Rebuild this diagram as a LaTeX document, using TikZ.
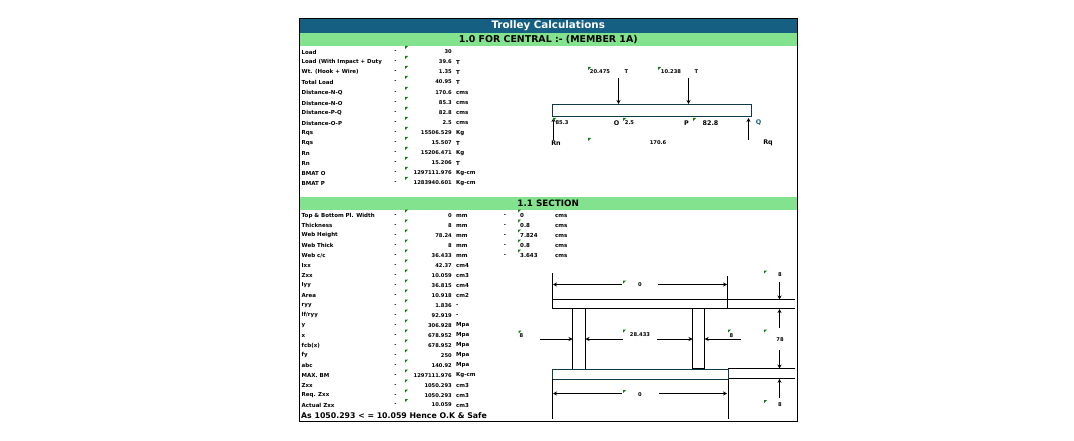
\documentclass[tikz,border=0pt]{standalone}
\usepackage{fontspec}
\usetikzlibrary{arrows.meta}
\setmainfont{DejaVu Sans}
\definecolor{headblue}{HTML}{156082}
\definecolor{headgreen}{HTML}{83E28E}
\definecolor{beamteal}{HTML}{0F3A4A}
\definecolor{markgreen}{HTML}{107C10}
\newcommand{\cellmark}[2]{\fill[markgreen] (#1,#2) -- ++(3,0) -- ++(-3,3) -- cycle;}
\begin{document}
\begin{tikzpicture}[
    x=1pt, y=-1pt,
    band/.style={anchor=north west, minimum width=497pt, inner sep=0pt, font=\bfseries\fontsize{9.4}{10}\selectfont},
    lab/.style={anchor=west, yshift=-0.5pt, inner sep=0pt, font=\bfseries\fontsize{5.5}{6}\selectfont},
    val/.style={anchor=east, yshift=-0.5pt, inner sep=0pt, font=\bfseries\fontsize{5.2}{6}\selectfont},
    txt/.style={yshift=-0.5pt, inner sep=0pt, font=\bfseries\fontsize{5.2}{6}\selectfont},
    pointlab/.style={yshift=-0.5pt, inner sep=0pt, font=\bfseries\fontsize{6.4}{7}\selectfont},
    dim/.style={-{Stealth[length=4pt,width=4pt]}, line width=0.7pt},
    edge/.style={line width=0.7pt}
]
\useasboundingbox (0,0) rectangle (1074,441);

% Bandes de titre
\node[band, fill=headblue, text=white, minimum height=14pt, font=\bfseries\fontsize{10.3}{11}\selectfont] (title) at (299.5,19) {Trolley Calculations};
\node[band, fill=headgreen, minimum height=13pt] (head1) at (299.5,33) {1.0 FOR CENTRAL :- (MEMBER 1A)};
\node[band, fill=headgreen, minimum height=13pt, font=\bfseries\fontsize{8.8}{10}\selectfont] (head2) at (299.5,197) {1.1 SECTION};

% Lignes du tableau
\foreach \y/\name/\value/\unit in {
    51.5/Load/30/{},
    61.5/{Load (With Impact + Duty}/39.6/T,
    71.5/{Wt. (Hook + Wire)}/1.35/T,
    81.5/Total Load/40.95/T,
    92.5/Distance-N-Q/170.6/cms,
    102.5/Distance-N-O/85.3/cms,
    112.5/Distance-P-Q/82.8/cms,
    122.5/Distance-O-P/2.5/cms,
    132.5/Rqs/15506.529/Kg,
    142.5/Rqs/15.507/T,
    152.5/Rn/15206.471/Kg,
    162.5/Rn/15.206/T,
    172.5/BMAT O/1297111.976/Kg-cm,
    182.5/BMAT P/1283940.601/Kg-cm,
    215/{Top \& Bottom Pl. Width}/0/mm,
    225/Thickness/8/mm,
    235/Web Height/78.24/mm,
    245/Web Thick/8/mm,
    255/{Web c/c}/36.433/mm,
    265/Ixx/42.37/cm4,
    275/Zxx/10.059/cm3,
    285/Iyy/36.815/cm4,
    295/Area/10.918/cm2,
    305/ryy/1.836/-,
    315/{lf/ryy}/92.919/-,
    325/y/306.928/Mpa,
    335/x/678.952/Mpa,
    345/fcb(x)/678.952/Mpa,
    355/fy/250/Mpa,
    365/abc/140.92/Mpa,
    375/MAX. BM/1297111.976/Kg-cm,
    385/Zxx/1050.293/cm3,
    395/Req. Zxx/1050.293/cm3,
    404.5/Actual Zxx/10.059/cm3} {
  \node[lab] (lab\y) at (301.5,\y) {\name};
  \node[txt] (dash\y) at (395.5,\y) {-};
  \cellmark{405}{\y-5.5}
  \node[val] (val\y) at (452,\y) {\value};
  \node[lab] (unit\y) at (456,\y) {\unit};
}

% Colonne en cm
\foreach \y/\value in {215/0, 225/0.8, 235/7.824, 245/0.8, 255/3.643} {
  \node[txt] (dashb\y) at (505,\y) {-};
  \cellmark{518}{\y-5.5}
  \node[lab] (cmval\y) at (520,\y) {\value};
  \node[lab] (cmunit\y) at (555,\y) {cms};
}

\node[lab, font=\bfseries\fontsize{7.8}{9}\selectfont] (verdict) at (301,415) {As 1050.293 < = 10.059 Hence O.K \& Safe};

% Poutre
\node[draw=beamteal, line width=0.8pt, minimum width=199pt, minimum height=12.4pt, inner sep=0pt, anchor=north west] (beam) at (552,104) {};
\coordinate (loadO) at (618.5,78);
\coordinate (loadP) at (688.5,78);
\coordinate (reacN) at (553.5,140);
\coordinate (reacQ) at (748.5,140);
\draw[dim] (loadO) -- (loadO |- beam.north);
\draw[dim] (loadP) -- (loadP |- beam.north);
\draw[dim] (reacN) -- ++(0,-22);
\draw[dim] (reacQ) -- ++(0,-22);

\node[txt] (forceO) at (600,71.5) {20.475};
\node[txt] (forceOu) at (626.5,71.5) {T};
\node[txt] (forceP) at (671,71.5) {10.238};
\node[txt] (forcePu) at (696.5,71.5) {T};
\node[txt] (dNO) at (562,122.5) {85.3};
\node[pointlab] (ptO) at (616.5,122.5) {O};
\node[txt] (dOP) at (629.5,122.5) {2.5};
\node[pointlab] (ptP) at (686.5,122.5) {P};
\node[pointlab] (dPQ) at (710.5,122.5) {82.8};
\node[pointlab, text=headblue] (ptQ) at (758.5,122.5) {Q};
\node[pointlab] (ptRn) at (556,142.5) {Rn};
\node[txt] (span) at (658,142.5) {170.6};
\node[pointlab] (ptRq) at (768,142.5) {Rq};

% Section : semelles et ames
\coordinate (topA) at (552.5,299.5);
\coordinate (topB) at (795,299.5);
\coordinate (topC) at (552.5,308.7);
\coordinate (topD) at (795,308.7);
\coordinate (botA) at (727.5,368.5);
\coordinate (botB) at (795,368.5);
\coordinate (botC) at (727.5,378.3);
\coordinate (botD) at (795,378.3);
\draw[edge] (topA) -- (topB);
\draw[edge] (topC) -- (topD);
\draw[edge] (botA) -- (botB);
\draw[edge] (botC) -- (botD);
\draw[edge] (552.5,273) -- (topC);
\draw[edge] (727.5,276) -- (727.5,308.7);
\draw[edge] (572.5,308.7) rectangle (585.5,369);
\draw[edge] (692.5,308.7) rectangle (704.7,368.5);
\node[draw=beamteal, line width=0.7pt, minimum width=175.7pt, minimum height=9.6pt, inner sep=0pt, anchor=north west] (botflange) at (552.1,368.9) {};
\draw[edge] (botflange.south west) ++(0.4,0) -- ++(0,39.4);
\draw[edge] (botflange.south east) ++(-0.4,0) -- ++(0,39.4);

% Cotes
\node[txt] (widthT) at (640,284.5) {0};
\node[txt] (widthB) at (640,394) {0};
\node[txt] (gap) at (640,334.5) {28.433};
\node[txt] (webL) at (521.5,335) {8};
\node[txt] (webR) at (731.5,335) {8};
\node[txt] (thkT) at (780,274.5) {8};
\node[txt] (depth) at (780,339.5) {78};
\node[txt] (thkB) at (780,404.5) {8};
\coordinate (lblT) at (622,284.5);
\coordinate (lblTb) at (658,284.5);
\coordinate (lblB) at (622,393.5);
\coordinate (lblBb) at (659,393.5);
\draw[dim] (lblT) -- (553,284.5);
\draw[dim] (lblTb) -- (727,284.5);
\draw[dim] (lblB) -- (553,393.5);
\draw[dim] (lblBb) -- (727,393.5);
\draw[dim] (539.5,339) -- (572.5,339);
\draw[dim] (623,339) -- (585.5,339);
\draw[dim] (657,339) -- (692.5,339);
\draw[dim] (741,339) -- (704.7,339);
\draw[dim] (779.5,282) -- (779.5,299.5);
\draw[dim] (779.5,328) -- (779.5,309);
\draw[dim] (779.5,350) -- (779.5,368.5);
\draw[dim] (779.5,398) -- (779.5,378.8);

% Marques vertes
\foreach \x/\y in {588/67, 658/67, 553/118, 623/118, 693/118, 588/138, 623/280.5, 764/270.5, 518.5/330.5, 623/329.5, 728/329.5, 764/329.5, 623/390, 764/400} {
  \cellmark{\x}{\y}
}

% Cadre
\node[draw, line width=1pt, minimum width=498pt, minimum height=403pt, inner sep=0pt, anchor=north west] (frame) at (299,18) {};
\end{tikzpicture}
\end{document}
